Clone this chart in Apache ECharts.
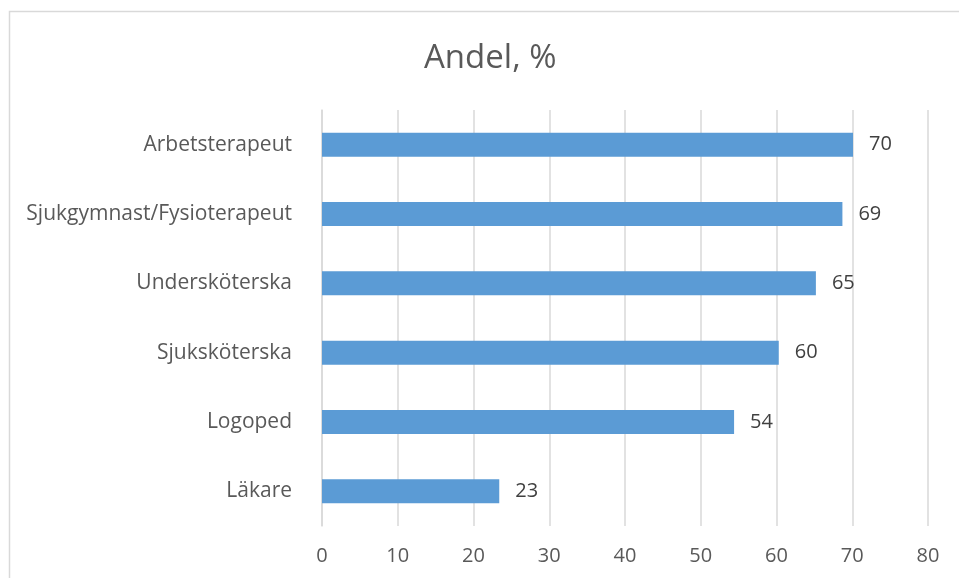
<!DOCTYPE html>
<html>
<head>
<meta charset="utf-8">
<script src="https://cdn.jsdelivr.net/npm/echarts@6/dist/echarts.min.js"></script>
<style>
html,body{margin:0;padding:0;background:#fff;}
#chart{width:959px;height:578px;}
</style>
</head>
<body>
<div id="chart"></div>
<script>
const categories = ['Arbetsterapeut','Sjukgymnast/Fysioterapeut','Undersköterska','Sjuksköterska','Logoped','Läkare'];
const values = [70.1, 68.7, 65.2, 60.3, 54.4, 23.4];
const xTicks = [0, 10, 20, 30, 40, 50, 60, 70, 80];
const titleText = 'Andel, %';

const font = 'Open Sans';
const chart = echarts.init(document.getElementById('chart'), null, {renderer:'canvas'});
chart.setOption({
  backgroundColor:'#ffffff',
  animation:false,
  graphic:[{
    type:'rect', silent:true,
    shape:{x:9.5, y:11.5, width:1000, height:1000},
    style:{fill:'none', stroke:'#d9d9d9', lineWidth:1.5}
  }],
  title:{
    text:titleText, left:419, top:37,
    textStyle:{fontFamily:font, fontSize:33, fontWeight:'normal', color:'#595959'}
  },
  grid:{left:322, right:31, top:110, bottom:52, containLabel:false},
  xAxis:{
    type:'value', min:xTicks[0], max:xTicks[xTicks.length-1], interval:10,
    axisLine:{show:false}, axisTick:{show:false},
    splitLine:{show:true, lineStyle:{color:'#d9d9d9', width:1.5}},
    axisLabel:{fontFamily:font, fontSize:20, color:'#595959', margin:20}
  },
  yAxis:{
    type:'category', data:categories, inverse:true,
    axisLine:{show:true, lineStyle:{color:'#d9d9d9', width:1.5}},
    axisTick:{show:false},
    axisLabel:{fontFamily:font, fontSize:21, color:'#595959', margin:30}
  },
  series:[{
    type:'bar', data:values, barWidth:24,
    itemStyle:{color:'#5b9bd5'},
    label:{show:true, position:'right', distance:16, fontFamily:font, fontSize:20, color:'#404040',
      formatter:p=>Math.round(p.value)}
  }]
});
</script>
</body>
</html>
